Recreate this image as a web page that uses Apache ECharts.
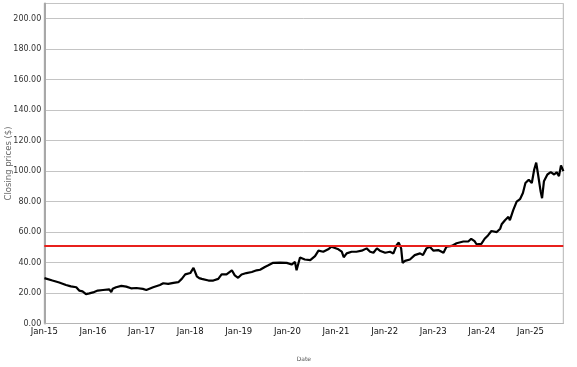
<!DOCTYPE html>
<html><head><meta charset="utf-8">
<script src="https://cdn.jsdelivr.net/npm/echarts@6/dist/echarts.min.js"></script>
<style>html,body{margin:0;padding:0;background:#fff}#c{width:577px;height:367px}</style>
</head><body><div id="c"></div>
<script>
var dates = [
'2015-01-02','2015-03-03','2015-04-23','2015-06-13','2015-07-20','2015-08-29','2015-09-20','2015-10-15','2015-11-10','2015-12-05',
'2016-01-02','2016-02-06','2016-03-17','2016-05-03','2016-05-18','2016-05-29','2016-06-23','2016-08-02','2016-09-08','2016-10-14','2016-11-24',
'2017-01-11','2017-02-06','2017-03-29','2017-05-19','2017-06-13','2017-07-20','2017-08-29','2017-10-04','2017-10-30','2017-11-25',
'2018-01-02','2018-01-26','2018-02-20','2018-03-10','2018-03-29','2018-05-19','2018-06-24','2018-07-31','2018-08-25','2018-10-01','2018-11-10','2018-12-02','2018-12-27',
'2019-01-22','2019-02-27','2019-04-09','2019-05-15','2019-06-10','2019-07-16','2019-08-11','2019-09-16','2019-11-06','2019-12-27',
'2020-02-02','2020-02-27','2020-03-10','2020-04-05','2020-05-11','2020-06-21','2020-07-27','2020-08-22','2020-09-27','2020-11-03','2020-11-28','2020-12-13',
'2021-01-19','2021-02-13','2021-02-28','2021-03-22','2021-04-28','2021-06-03','2021-07-13','2021-08-19','2021-09-14','2021-10-09','2021-11-04','2021-11-26',
'2022-01-05','2022-02-10','2022-03-08','2022-04-02','2022-04-17','2022-05-05','2022-05-16','2022-06-03','2022-07-10','2022-08-15','2022-09-24','2022-10-16','2022-11-11','2022-12-06',
'2023-01-03','2023-02-07','2023-03-19','2023-04-10','2023-05-20','2023-06-25','2023-08-15','2023-09-21','2023-10-13','2023-10-27','2023-11-07','2023-11-22','2023-12-03','2023-12-28',
'2024-01-22','2024-02-16','2024-03-13','2024-04-22','2024-05-18','2024-05-29','2024-06-23','2024-07-19','2024-07-30','2024-08-24','2024-09-19','2024-10-14','2024-11-05','2024-11-24','2024-12-19',
'2025-01-11','2025-01-29','2025-02-13','2025-02-27','2025-03-18','2025-03-29','2025-04-12','2025-05-08','2025-06-02','2025-06-28','2025-07-16','2025-08-03','2025-08-18','2025-09-05'
];
var closingPrices = [
29.8,28.2,26.9,25.3,24.4,23.8,21.6,21.1,19.3,19.8,
20.4,21.6,22.0,22.4,20.6,22.8,23.8,24.7,24.2,23.1,23.3,
22.7,22.0,23.8,25.3,26.4,26.0,26.7,27.1,29.3,32.2,
33.1,36.5,31.0,29.8,29.3,28.2,28.2,29.3,32.2,32.2,34.9,31.6,30.0,
32.2,33.1,33.8,34.9,35.3,37.1,38.2,39.8,40.0,39.8,
38.7,40.4,35.0,43.3,42.0,41.6,44.2,47.8,47.1,48.7,50.4,49.3,
48.7,47.1,43.5,46.0,47.1,47.1,47.8,49.3,47.1,46.4,49.3,47.8,
46.4,47.1,46.0,51.6,53.1,49.3,39.8,41.1,42.0,44.9,46.0,44.9,49.3,50.4,
47.8,48.2,46.4,50.4,50.9,52.7,53.8,53.8,55.6,56.0,54.0,52.0,51.1,52.2,
55.6,57.8,60.7,60.0,62.2,65.1,67.8,70.0,67.8,74.4,80.0,81.6,85.6,92.2,94.4,
92.2,101.1,105.6,97.8,86.7,82.2,93.3,97.8,99.3,97.8,99.3,96.7,103.8,100.0
];
var yTickValues = [0,20,40,60,80,100,120,140,160,180,200];
var xTickYears = [2015,2016,2017,2018,2019,2020,2021,2022,2023,2024,2025];
var referenceLevel = 51;

function toDecYear(s){
  var p = s.split('-').map(Number);
  var y = p[0];
  var t0 = Date.UTC(y,0,1), t1 = Date.UTC(y+1,0,1);
  return y + (Date.UTC(y,p[1]-1,p[2]) - t0) / (t1 - t0);
}
var seriesData = dates.map(function(d,i){ return [toDecYear(d), closingPrices[i]]; });

var chart = echarts.init(document.getElementById('c'), null, {renderer:'canvas'});
chart.setOption({
  animation:false,
  backgroundColor:'#fff',
  textStyle:{fontFamily:'DejaVu Sans'},
  grid:{left:44.3, right:13.7, top:3.5, bottom:43.5, show:true, borderColor:'#b4b4b4', borderWidth:1, outerBoundsMode:'none'},
  xAxis:{
    type:'value', min:2015, max:2025.675, interval:1,
    name:'Date', nameLocation:'middle', nameGap:33,
    nameTextStyle:{fontSize:6, color:'#555', fontFamily:'DejaVu Sans'},
    axisLine:{show:true, lineStyle:{color:'#b4b4b4', width:1}},
    axisTick:{show:false},
    splitLine:{show:false},
    axisLabel:{
      margin:4, fontSize:8.5, color:'#111', fontFamily:'DejaVu Sans',
      customValues: xTickYears,
      formatter:function(v){ return 'Jan-' + String(Math.round(v)).slice(2); }
    }
  },
  yAxis:{
    type:'value', min:0, max:210, interval:20,
    name:'Closing prices ($)', nameLocation:'middle', nameGap:31, nameRotate:90,
    nameMoveOverlap:false,
    nameTextStyle:{fontSize:8.5, color:'#666', fontFamily:'DejaVu Sans'},
    axisLine:{show:true, lineStyle:{color:'#a8a8a8', width:2}},
    axisTick:{show:false},
    splitLine:{show:true, lineStyle:{color:'#c4c4c4', width:1}},
    axisLabel:{
      margin:3, fontSize:8, color:'#333', fontFamily:'DejaVu Sans',
      customValues: yTickValues,
      formatter:function(v){ return v.toFixed(2); }
    }
  },
  series:[{
    type:'line', data:seriesData, showSymbol:false, symbol:'none',
    lineStyle:{color:'#000', width:2.2}, silent:true,
    markLine:{
      silent:true, symbol:['none','none'], label:{show:false},
      lineStyle:{color:'#e8201c', width:2, type:'solid'},
      data:[{yAxis:referenceLevel}]
    }
  }]
});
</script></body></html>
